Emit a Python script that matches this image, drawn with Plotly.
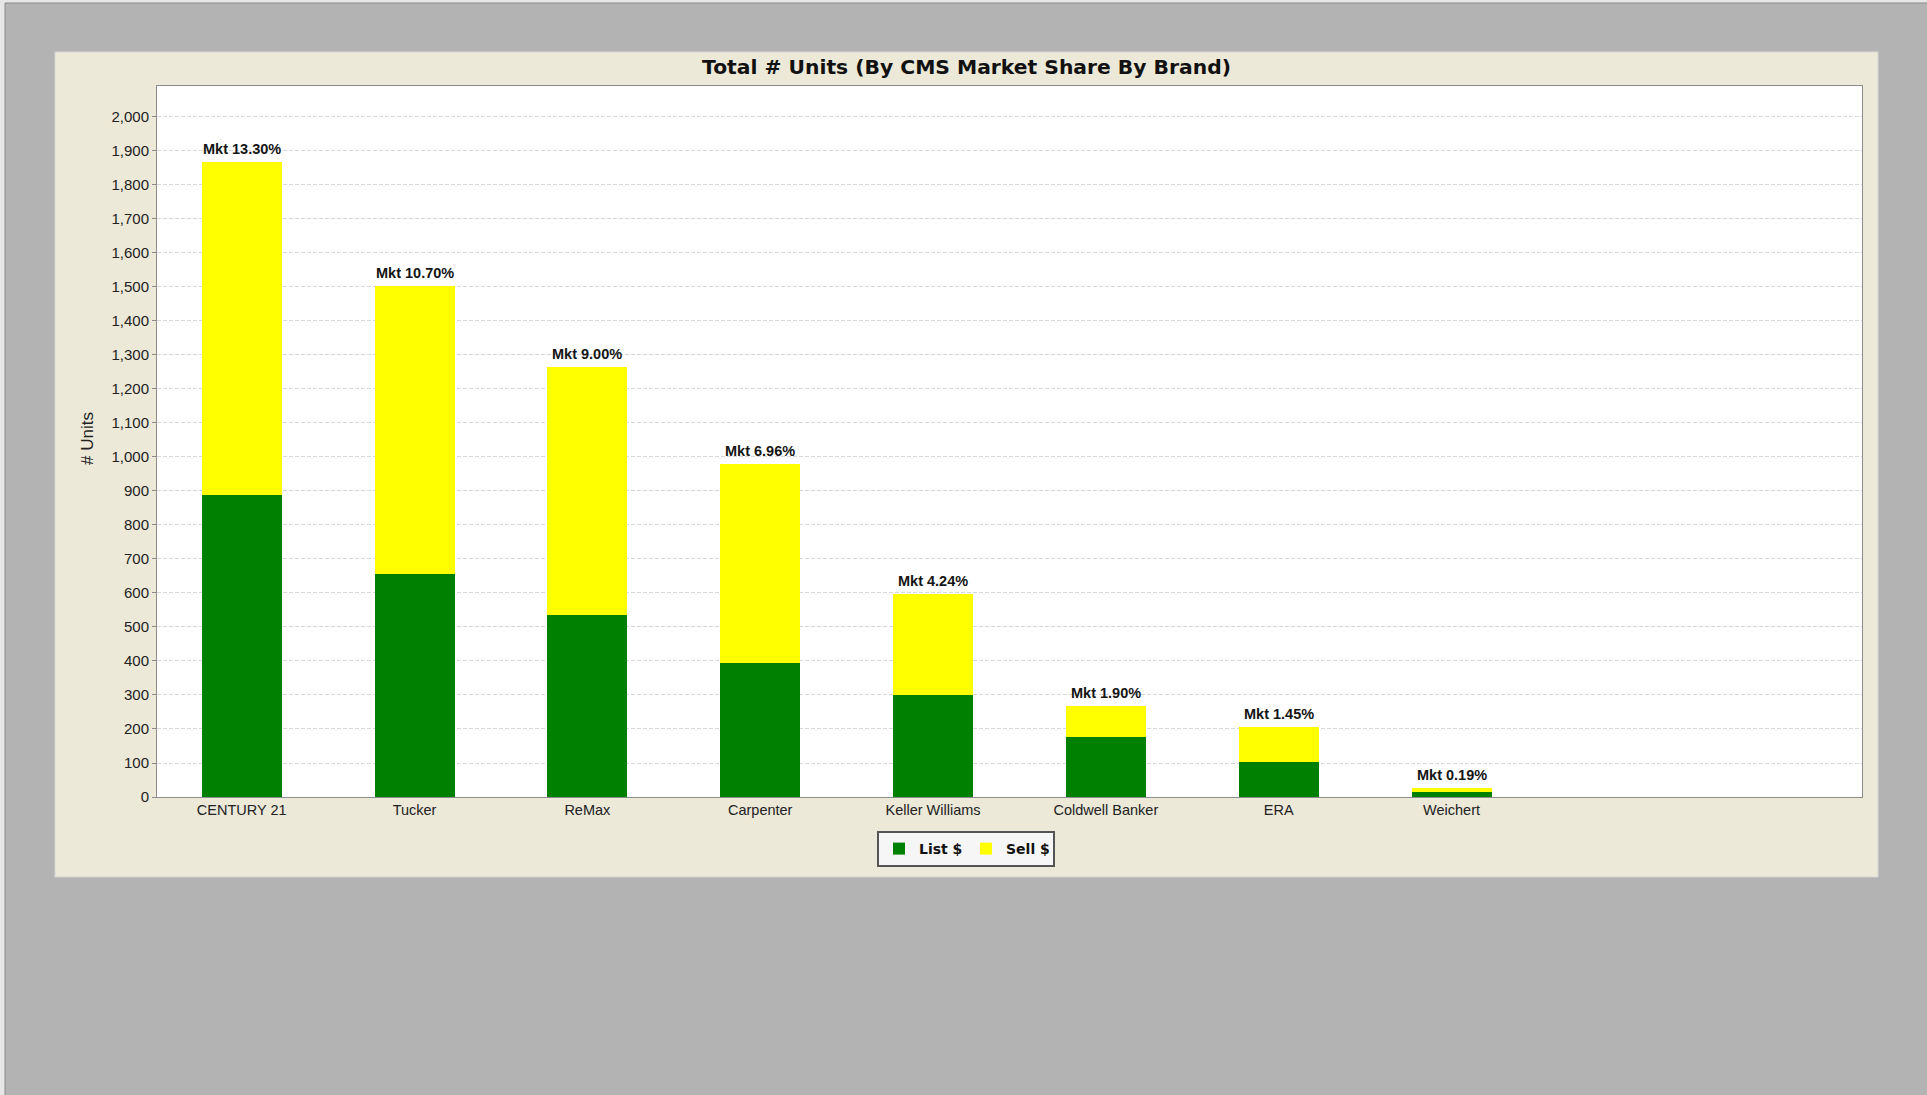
import plotly.graph_objects as go

# ---- data ----
brands = ["CENTURY 21", "Tucker", "ReMax", "Carpenter", "Keller Williams",
          "Coldwell Banker", "ERA", "Weichert"]
list_units = [887, 655, 535, 394, 300, 177, 103, 15]
sell_units = [981, 848, 731, 584, 297, 91, 103, 12]
market_share = ["13.30%", "10.70%", "9.00%", "6.96%", "4.24%", "1.90%", "1.45%", "0.19%"]
y_ticks = list(range(0, 2001, 100))

# ---- layout geometry (pixels) ----
W, H = 1927, 1095
PL, PR, PT, PB = 157, 1862, 86, 797      # plot area
PW, PH = PR - PL, PB - PT
FONT = "Liberation Sans, Arial, Helvetica, sans-serif"
WIDE_FONT = "DejaVu Sans, Liberation Sans, sans-serif"


def px(x):
    return (x - PL) / PW


def py(y):
    return (PB - y) / PH


fig = go.Figure()
fig.add_trace(go.Bar(x=brands, y=list_units, name="<b>List $</b>",
                     marker=dict(color="#008000", line=dict(width=0)), width=0.463))
fig.add_trace(go.Bar(x=brands, y=sell_units, name="<b>Sell $</b>",
                     marker=dict(color="#FFFF00", line=dict(width=0)), width=0.463))

totals = [a + b for a, b in zip(list_units, sell_units)]
annotations = []
for b, t, s in zip(brands, totals, market_share):
    annotations.append(dict(x=b, y=t, xref="x", yref="y", text="<b>Mkt " + s + "</b>",
                            showarrow=False, yanchor="bottom", xanchor="center",
                            yshift=3, font=dict(family=FONT, size=14.5, color="#151515")))

annotations.append(dict(x=px(87), y=py(439), xref="paper", yref="paper",
                        text="# Units", textangle=-90, showarrow=False,
                        xanchor="center", yanchor="middle",
                        font=dict(family=FONT, size=17, color="#222222")))

shapes = [
    # outer frame border
    dict(type="rect", xref="paper", yref="paper", x0=px(5), y0=py(H + 5), x1=px(W + 5), y1=py(3),
         fillcolor="#B3B3B3", line=dict(color="#8a8a8a", width=1), layer="below"),
    # beige chart panel
    dict(type="rect", xref="paper", yref="paper", x0=px(55), y0=py(877), x1=px(1878), y1=py(52),
         fillcolor="#ECE9D8", line=dict(color="#d6d6d6", width=1), layer="below"),
    # white plot area
    dict(type="rect", xref="paper", yref="paper", x0=0, y0=0, x1=1, y1=1,
         fillcolor="#FFFFFF", line=dict(width=0), layer="below"),
]

fig.update_layout(
    width=W, height=H,
    margin=dict(l=PL, r=W - PR, t=PT, b=H - PB, pad=0, autoexpand=False),
    paper_bgcolor="#E6E6E6",
    plot_bgcolor="#FFFFFF",
    barmode="stack",
    font=dict(family=FONT, size=14, color="#222222"),
    title=dict(text="<b>Total # Units (By CMS Market Share By Brand)</b>",
               x=966.5 / W, xanchor="center", xref="container",
               y=1 - 67 / H, yanchor="middle", yref="container",
               font=dict(family=WIDE_FONT, size=20.3, color="#111111")),
    xaxis=dict(type="category", categoryorder="array", categoryarray=brands,
               range=[-0.49, 9.375], showgrid=False, zeroline=False,
               showline=True, linecolor="#8c8c8c", linewidth=1, mirror=True,
               ticks="", tickangle=0, tickfont=dict(family=FONT, size=14.5, color="#222222"),
               fixedrange=True),
    yaxis=dict(range=[0, 2091], tickvals=y_ticks, tickformat=",d",
               showgrid=True, gridcolor="#d8d8d8", griddash="4px,2px", gridwidth=1,
               zeroline=False, showline=True, linecolor="#8c8c8c", linewidth=1, mirror=True,
               ticks="outside", ticklen=4, tickcolor="#8c8c8c",
               tickfont=dict(family=FONT, size=15, color="#222222"),
               fixedrange=True),
    legend=dict(orientation="h", x=px(966), xref="paper", xanchor="center",
                y=py(831), yref="paper", yanchor="top",
                bgcolor="#F6F6F6", bordercolor="#555555", borderwidth=2,
                font=dict(family=WIDE_FONT, size=14, color="#111111"),
                itemwidth=30, entrywidth=42, entrywidthmode="pixels",
                traceorder="normal", tracegroupgap=0),
    annotations=annotations,
    shapes=shapes,
    showlegend=True,
)

fig.write_html("out.html", config={"displayModeBar": False},
               post_script="document.body.style.margin='0';document.body.style.overflow='hidden';")
